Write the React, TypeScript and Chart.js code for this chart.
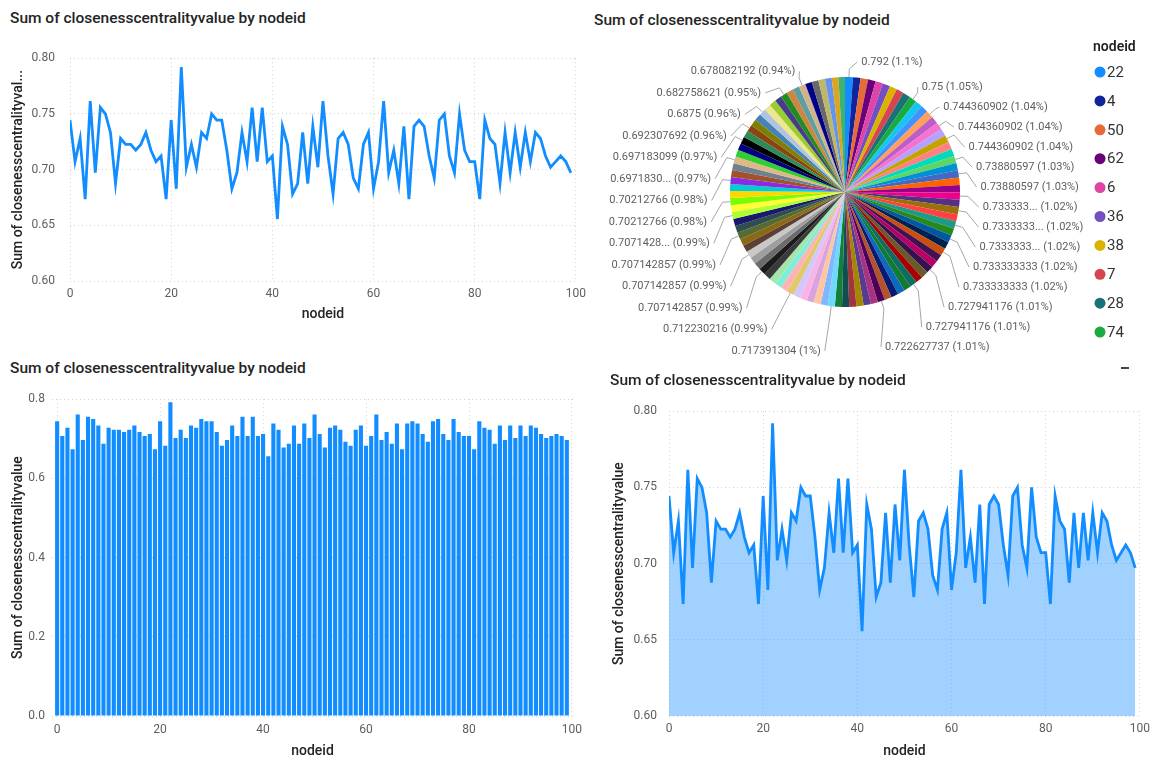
import React, { useEffect, useRef } from 'react';
import { Chart, registerables } from 'chart.js';

Chart.register(...registerables);
Chart.defaults.font.family = 'Roboto, "Noto Sans", sans-serif';

// ---- data -------------------------------------------------------------
const nodeIds = [
  0, 1, 2, 3, 4, 5, 6, 7, 8, 9, 10, 11, 12, 13, 14, 15, 16, 17, 18, 19,
  20, 21, 22, 23, 24, 25, 26, 27, 28, 29, 30, 31, 32, 33, 34, 35, 36, 37, 38, 39,
  40, 41, 42, 43, 44, 45, 46, 47, 48, 49, 50, 51, 52, 53, 54, 55, 56, 57, 58, 59,
  60, 61, 62, 63, 64, 65, 66, 67, 68, 69, 70, 71, 72, 73, 74, 75, 76, 77, 78, 79,
  80, 81, 82, 83, 84, 85, 86, 87, 88, 89, 90, 91, 92, 93, 94, 95, 96, 97, 98, 99,
];

const closeness = [
  0.744360902, 0.707142857, 0.727941176, 0.673469388, 0.761538462,
  0.697183099, 0.755725191, 0.75, 0.733333333, 0.6875,
  0.727941176, 0.722627737, 0.722627737, 0.717391304, 0.722627737,
  0.733333333, 0.717391304, 0.707142857, 0.712230216, 0.673469388,
  0.744360902, 0.682758621, 0.792, 0.70212766, 0.722627737,
  0.70212766, 0.733333333, 0.727941176, 0.75, 0.744360902,
  0.744360902, 0.717391304, 0.682758621, 0.697183099, 0.733333333,
  0.707142857, 0.755725191, 0.707142857, 0.755725191, 0.707142857,
  0.712230216, 0.655629139, 0.73880597, 0.722627737, 0.678082192,
  0.6875, 0.733333333, 0.6875, 0.73880597, 0.70212766,
  0.761538462, 0.712230216, 0.678082192, 0.727941176, 0.733333333,
  0.722627737, 0.692307692, 0.682758621, 0.722627737, 0.733333333,
  0.682758621, 0.707142857, 0.761538462, 0.697183099, 0.717391304,
  0.6875, 0.73880597, 0.673469388, 0.73880597, 0.744360902,
  0.73880597, 0.712230216, 0.692307692, 0.744360902, 0.75,
  0.712230216, 0.697183099, 0.75, 0.717391304, 0.707142857,
  0.707142857, 0.673469388, 0.744360902, 0.727941176, 0.722627737,
  0.6875, 0.733333333, 0.697183099, 0.733333333, 0.70212766,
  0.733333333, 0.707142857, 0.733333333, 0.727941176, 0.712230216,
  0.70212766, 0.707142857, 0.712230216, 0.707142857, 0.697183099,
];

const xTicks = [0, 20, 40, 60, 80, 100];
const yTicksZoomed = [0.6, 0.65, 0.7, 0.75, 0.8];
const yTicksFull = [0, 0.2, 0.4, 0.6, 0.8];

// slice ranks (after sorting descending) that carry an outside label
const pieLabelRanks = [
  0, 9, 12, 14, 16, 19, 21, 24, 26, 28, 30, 32, 35, 38, 43,
  50, 56, 61, 64, 67, 70, 72, 75, 78, 81, 83, 86, 90, 93,
];
// ranks whose value text is shortened, with the number of characters kept
const pieLabelTrim: Record<number, number> = { 24: 8, 26: 9, 28: 9, 70: 9, 78: 9 };

const legendCount = 10;

// ---- styles -----------------------------------------------------------
const BLUE = '#118DFF';
const TICK_COLOR = '#605E5C';
const TITLE_COLOR = '#252423';
const TITLE = 'Sum of closenesscentralityvalue by nodeid';

const sliceColors = [
  '#118DFF', '#12239E', '#E66C37', '#6B007B', '#E044A7', '#744EC2', '#D9B300', '#D64550', '#197278', '#1AAB40',
  '#15C6F4', '#4092FF', '#FFA058', '#BE5DC9', '#F472D0', '#B5A1FF', '#C4A200', '#FF8080', '#00DBBC', '#5BD667',
  '#0091D5', '#4668C5', '#FF6300', '#99008A', '#EC008C', '#533285', '#99700A', '#FF4141', '#1F9A85', '#25891C',
  '#0057A2', '#002050', '#C94F0F', '#450F54', '#B60064', '#34124F', '#6A5A29', '#A80000', '#0E6D63', '#137A31',
  '#0D6ABF', '#0A1A73', '#B25428', '#4E0059', '#A83380', '#573A92', '#A38700', '#A1343C', '#124D52', '#13803A',
  '#6ED9FF', '#80B7FF', '#FFC7A1', '#D9A3DF', '#F9B3E5', '#D2C7FF', '#E0C96A', '#FFB3B3', '#7FEDDB', '#A3E6A9',
  '#3A3A3A', '#1B1B1B', '#6B6B6B', '#9E9E9E', '#C8C8C8', '#5C4033', '#8B6914', '#556B2F', '#2F4F4F', '#191970',
  '#ADFF2F', '#FFFF33', '#7CFC00', '#FFD700', '#00CED1', '#8A2BE2', '#A0522D', '#708090', '#DEB887', '#32CD32',
  '#000080', '#000000', '#2E8B57', '#8B4513', '#808000', '#4682B4', '#B0C4DE', '#F0E68C', '#9ACD32', '#483D8B',
  '#228B22', '#CD853F', '#5F9EA0', '#D2B48C', '#00008B', '#696969', '#BDB76B', '#6495ED', '#DAA520', '#3CB371',
];

const points = nodeIds.map((id, i) => ({ x: id, y: closeness[i] }));

const gridOpts = { color: '#d2d2d2', lineWidth: 1, drawTicks: false, offset: false };
const borderOpts = { display: false, dash: [1, 3] };

function xAxis(min: number, max: number, height: number, tickPad: number, titlePad: number) {
  return {
    type: 'linear',
    min,
    max,
    offset: false,
    afterBuildTicks: (axis: any) => {
      axis.ticks = xTicks.map((v) => ({ value: v }));
    },
    afterFit: (axis: any) => {
      axis.height = height;
    },
    grid: gridOpts,
    border: borderOpts,
    ticks: {
      padding: tickPad,
      color: TICK_COLOR,
      font: { size: 12 },
      maxRotation: 0,
      autoSkip: false,
      callback: (v: any) => String(v),
    },
    title: {
      display: true,
      text: 'nodeid',
      color: TITLE_COLOR,
      font: { size: 14, weight: '500' },
      padding: { top: 0, bottom: titlePad },
    },
  };
}

function yAxis(
  ticks: number[],
  digits: number,
  width: number,
  tickPad: number,
  titleText: string,
  titlePad: number,
) {
  return {
    type: 'linear',
    min: ticks[0],
    max: ticks[ticks.length - 1],
    afterBuildTicks: (axis: any) => {
      axis.ticks = ticks.map((v) => ({ value: v }));
    },
    afterFit: (axis: any) => {
      axis.width = width;
    },
    grid: gridOpts,
    border: borderOpts,
    ticks: {
      padding: tickPad,
      color: TICK_COLOR,
      font: { size: 12 },
      callback: (v: any) => Number(v).toFixed(digits),
    },
    title: {
      display: true,
      text: titleText,
      color: TITLE_COLOR,
      font: { size: 14, weight: '500' },
      padding: { top: titlePad, bottom: 0 },
    },
  };
}

const baseOptions = {
  animation: false,
  responsive: false,
  maintainAspectRatio: false,
  events: [],
  plugins: { legend: { display: false }, tooltip: { enabled: false } },
};

function lineConfig(): any {
  return {
    type: 'line',
    data: {
      datasets: [
        {
          data: points,
          borderColor: BLUE,
          borderWidth: 2.8,
          pointRadius: 0,
          tension: 0,
          fill: false,
        },
      ],
    },
    options: {
      ...baseOptions,
      layout: { padding: { left: 0, right: 14, top: 10, bottom: 0 } },
      scales: {
        x: xAxis(0, 100, 51, 6, 9),
        y: yAxis(yTicksZoomed, 2, 70, 15, 'Sum of closenesscentralityval...', 10),
      },
    },
  };
}

function barConfig(): any {
  return {
    type: 'bar',
    data: {
      datasets: [
        {
          data: points,
          backgroundColor: BLUE,
          borderWidth: 0,
          barPercentage: 0.8,
          categoryPercentage: 1,
        },
      ],
    },
    options: {
      ...baseOptions,
      layout: { padding: { left: 0, right: 17, top: 13, bottom: 0 } },
      scales: {
        x: xAxis(-1, 100.2, 46, 7, 2),
        y: yAxis(yTicksFull, 1, 52, 7, 'Sum of closenesscentralityvalue', 10),
      },
    },
  };
}

function areaConfig(): any {
  return {
    type: 'line',
    data: {
      datasets: [
        {
          data: points,
          borderColor: BLUE,
          borderWidth: 2.8,
          backgroundColor: 'rgba(17,141,255,0.4)',
          pointRadius: 0,
          tension: 0,
          fill: 'start',
        },
      ],
    },
    options: {
      ...baseOptions,
      layout: { padding: { left: 0, right: 13, top: 14, bottom: 0 } },
      scales: {
        x: xAxis(0, 100, 46, 6, 2),
        y: yAxis(yTicksZoomed, 2, 89, 12, 'Sum of closenesscentralityvalue', 31),
      },
    },
  };
}

// ---- pie ----------------------------------------------------------------
const order = [...nodeIds.keys()].sort((a, b) => closeness[b] - closeness[a] || nodeIds[a] - nodeIds[b]);
const pieLabels = order.map((i) => String(nodeIds[i]));
const pieValues = order.map((i) => closeness[i]);
const pieTotal = pieValues.reduce((s, v) => s + v, 0);

const fmtValue = (v: number) => String(parseFloat(v.toFixed(9)));
const fmtPct = (v: number) => String(parseFloat(((v / pieTotal) * 100).toFixed(2)));

const pieDecorPlugin = {
  id: 'pieDecor',
  afterDatasetsDraw(chart: any) {
    const ctx: CanvasRenderingContext2D = chart.ctx;
    const meta = chart.getDatasetMeta(0);
    const first = meta.data[0];
    const cx = first.x;
    const cy = first.y;
    const r = first.outerRadius;
    // labels sit on an upright oval around the pie, taller above than below
    const ringA = r + 23;
    const ringAbove = r + 40;
    const ringBelow = r + 22;
    const ringCy = cy + 24;

    type Item = { rank: number; mid: number; ideal: number; y: number; right: boolean };
    const items: Item[] = pieLabelRanks.map((rank) => {
      const arc = meta.data[rank];
      const mid = (arc.startAngle + arc.endAngle) / 2;
      const ideal = cy + (r + 15) * Math.sin(mid);
      return { rank, mid, ideal, y: ideal, right: Math.cos(mid) >= 0 };
    });

    const place = (list: Item[], gap: number) => {
      list.sort((a, b) => a.ideal - b.ideal);
      let prev = -Infinity;
      for (const it of list) {
        it.y = Math.max(it.ideal, prev + gap);
        prev = it.y;
      }
    };
    place(items.filter((it) => it.right), 20);
    place(items.filter((it) => !it.right), 21.5);

    ctx.save();
    ctx.font = '11px Roboto, "Noto Sans", sans-serif';
    ctx.textBaseline = 'middle';
    for (const it of items) {
      const cos = Math.cos(it.mid);
      const sin = Math.sin(it.mid);
      const dy = it.y - ringCy;
      const t = dy / (dy < 0 ? ringAbove : ringBelow);
      const dx = Math.max(6, ringA * Math.sqrt(Math.max(0, 1 - t * t)));
      const tx = it.right ? cx + dx : cx - dx;
      const v = pieValues[it.rank];
      let vs = fmtValue(v);
      const keep = pieLabelTrim[it.rank];
      if (keep) vs = vs.slice(0, keep) + '...';
      const text = `${vs} (${fmtPct(v)}%)`;

      ctx.strokeStyle = '#a6a6a6';
      ctx.lineWidth = 1;
      ctx.beginPath();
      ctx.moveTo(cx + r * cos, cy + r * sin);
      ctx.lineTo(cx + (r + 8) * cos, cy + (r + 8) * sin);
      ctx.lineTo(it.right ? tx - 4 : tx + 4, it.y);
      ctx.stroke();

      ctx.fillStyle = TICK_COLOR;
      ctx.textAlign = it.right ? 'left' : 'right';
      ctx.fillText(text, tx, it.y);
    }

    // legend
    const lx = 513;
    ctx.textAlign = 'left';
    ctx.fillStyle = TITLE_COLOR;
    ctx.font = '600 14px Roboto, "Noto Sans", sans-serif';
    ctx.fillText('nodeid', lx, 11);
    ctx.font = '15px Roboto, "Noto Sans", sans-serif';
    for (let k = 0; k < legendCount; k++) {
      const y = 36 + k * 28.9;
      ctx.fillStyle = sliceColors[k % sliceColors.length];
      ctx.beginPath();
      ctx.arc(lx + 7, y, 5.5, 0, Math.PI * 2);
      ctx.fill();
      ctx.fillStyle = '#333333';
      ctx.fillText(pieLabels[k], lx + 14, y + 1);
    }
    ctx.strokeStyle = '#444';
    ctx.lineWidth = 2;
    ctx.beginPath();
    ctx.moveTo(541, 332);
    ctx.lineTo(549, 332);
    ctx.stroke();
    ctx.restore();
  },
};

function pieConfig(): any {
  return {
    type: 'pie',
    data: {
      labels: pieLabels,
      datasets: [
        {
          data: pieValues,
          backgroundColor: pieValues.map((_, k) => sliceColors[k % sliceColors.length]),
          borderWidth: 0,
        },
      ],
    },
    options: {
      ...baseOptions,
      layout: { padding: { left: 150, right: 196, top: 41, bottom: 73 } },
    },
    plugins: [pieDecorPlugin],
  };
}

// ---- components -----------------------------------------------------------
type PanelProps = { left: number; top: number; width: number; height: number; make: () => any };

function ChartCanvas({ left, top, width, height, make }: PanelProps) {
  const ref = useRef<HTMLCanvasElement>(null);
  useEffect(() => {
    const chart = new Chart(ref.current as HTMLCanvasElement, make());
    return () => chart.destroy();
  }, []);
  return (
    <canvas
      ref={ref}
      width={width}
      height={height}
      style={{ position: 'absolute', left, top, width, height }}
    />
  );
}

function Title({ left, top }: { left: number; top: number }) {
  return (
    <div
      style={{
        position: 'absolute',
        left,
        top,
        font: '500 15.5px Roboto, "Noto Sans", sans-serif',
        color: TITLE_COLOR,
        whiteSpace: 'nowrap',
      }}
    >
      {TITLE}
    </div>
  );
}

export default function App() {
  return (
    <div
      style={{
        position: 'absolute',
        left: 0,
        top: 0,
        width: 1156,
        height: 762,
        background: '#ffffff',
        overflow: 'hidden',
      }}
    >
      <Title left={10} top={9} />
      <ChartCanvas left={0} top={36} width={592} height={296} make={lineConfig} />

      <Title left={594} top={11} />
      <ChartCanvas left={580} top={36} width={576} height={344} make={pieConfig} />

      <Title left={10} top={359} />
      <ChartCanvas left={0} top={385} width={590} height={377} make={barConfig} />

      <Title left={610} top={371} />
      <ChartCanvas left={580} top={392} width={576} height={370} make={areaConfig} />
    </div>
  );
}
